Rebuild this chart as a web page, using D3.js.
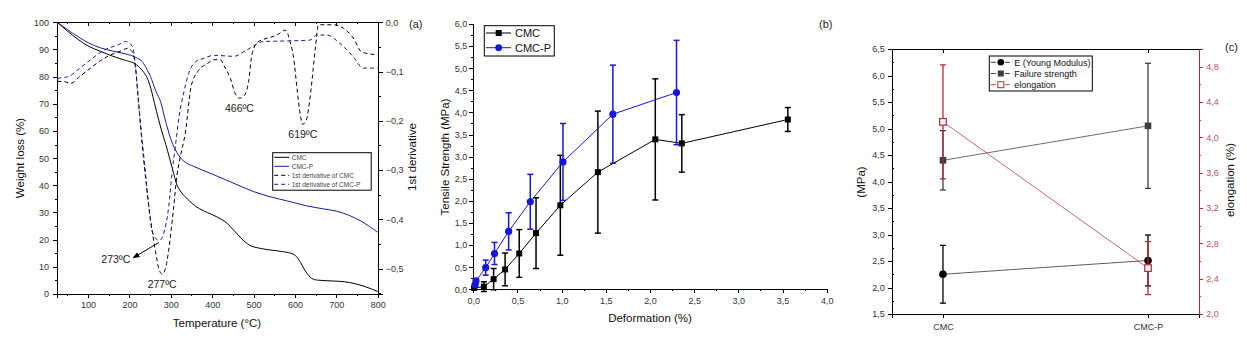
<!DOCTYPE html>
<html>
<head>
<meta charset="utf-8">
<script src="https://cdn.jsdelivr.net/npm/d3@7"></script>
<style>
  body { margin: 0; background: #fff; }
  svg { display: block; font-family: Arial, "Liberation Sans", sans-serif; }
  .axis path, .axis line { stroke: #000; stroke-width: 1; shape-rendering: crispEdges; }
  .axis text { fill: #333; font-size: 9px; }
  .title { fill: #111; font-size: 11.5px; }
</style>
</head>
<body>
<script>
// ---------------------------- DATA ---------------------------- //
// (a) thermogravimetric curves, [temperature, value]
const cmcWeight = [[26,100],[50,96.8],[75,93.8],[100,91.3],[130,89.3],[160,87.5],[190,86.0],[210,85],[225,83.3],[235,81.5],[243,79.5],[252,75.5],[261,70],[270,64.5],[278,60],[288,55],[297,50],[305,45.5],[314,40.5],[325,37.5],[340,35],[363,32],[388,30],[410,28.5],[436,26],[452,23.5],[470,20.5],[490,18],[516,16.8],[540,16.2],[570,15.6],[597,14.6],[610,12.5],[625,8.5],[640,5.8],[655,5.1],[690,4.8],[720,4.5],[745,3.8],[770,2.7],[800,0.9]];
const cmcpWeight = [[26,100],[50,97.3],[75,94.8],[100,92.5],[130,90.6],[160,89.4],[190,88.4],[215,87.1],[231,85.5],[243,82.5],[251,80],[263,75],[277,70],[285,65],[294,60],[305,55],[315,52],[325,49.8],[335,48.5],[355,47],[396,44.4],[444,41.3],[500,37.7],[540,35.8],[580,34.3],[630,32.4],[670,31.3],[700,30.5],[730,29],[760,26.8],[800,22.7]];
const cmcDeriv = [[26,-0.120],[40,-0.120],[58,-0.124],[80,-0.110],[100,-0.097],[130,-0.078],[155,-0.066],[180,-0.058],[195,-0.053],[207,-0.060],[215,-0.093],[222,-0.16],[231,-0.25],[241,-0.33],[251,-0.40],[263,-0.465],[271,-0.50],[279,-0.511],[287,-0.50],[295,-0.462],[307,-0.374],[315,-0.31],[323,-0.273],[335,-0.225],[349,-0.131],[365,-0.100],[390,-0.083],[404,-0.076],[420,-0.076],[428,-0.087],[444,-0.114],[456,-0.145],[466,-0.154],[478,-0.148],[488,-0.120],[496,-0.066],[510,-0.040],[520,-0.036],[556,-0.026],[578,-0.016],[588,-0.039],[597,-0.073],[605,-0.134],[613,-0.188],[619,-0.207],[627,-0.200],[633,-0.175],[641,-0.120],[649,-0.055],[657,-0.005],[693,-0.005],[717,-0.012],[741,-0.032],[761,-0.060],[780,-0.064],[800,-0.066]];
const cmcpDeriv = [[26,-0.114],[40,-0.112],[54,-0.110],[70,-0.100],[100,-0.080],[140,-0.056],[175,-0.045],[191,-0.039],[207,-0.049],[215,-0.093],[221,-0.154],[229,-0.225],[237,-0.29],[245,-0.36],[253,-0.415],[262,-0.437],[272,-0.443],[283,-0.428],[295,-0.374],[303,-0.306],[311,-0.252],[320,-0.191],[331,-0.144],[343,-0.104],[360,-0.080],[380,-0.073],[404,-0.067],[452,-0.069],[484,-0.056],[524,-0.039],[573,-0.038],[637,-0.036],[653,-0.026],[677,-0.026],[709,-0.043],[741,-0.070],[765,-0.093],[800,-0.093]];
const tgaLegend = ["CMC", "CMC-P", "1st derivative of CMC", "1st derivative of CMC-P"];
const peakLabels = [{t: 466, d: -0.154, text: "466ºC"}, {t: 619, d: -0.207, text: "619ºC"}, {t: 279, d: -0.511, text: "277ºC"}];

// (b) tensile curves
const cmcStrain = [0.01,0.12,0.23,0.36,0.52,0.71,0.985,1.41,2.06,2.36,3.56];
const cmcStress = [0.03,0.06,0.23,0.45,0.81,1.27,1.90,2.65,3.39,3.30,3.84];
const cmcStressErr = [0.02,0.11,0.24,0.37,0.54,0.80,1.13,1.38,1.37,0.65,0.27];
const cmcpStrain = [0.02,0.03,0.14,0.24,0.40,0.645,1.015,1.58,2.30];
const cmcpStress = [0.10,0.19,0.49,0.81,1.31,1.98,2.88,3.96,4.45];
const cmcpStressErr = [0.04,0.05,0.17,0.25,0.42,0.62,0.87,1.11,1.18];

// (c) mechanical properties per sample
const samples = ["CMC", "CMC-P"];
const youngModulus = [2.25, 2.51];
const youngErr = [0.545, 0.48];
const failureStrength = [4.40, 5.05];
const failureErr = [0.56, 1.18];
const elongation = [4.175, 2.52];
const elongationErr = [0.645, 0.30];

// ---------------------------- SETUP ---------------------------- //
const width = 1247, height = 339;
const svg = d3.select("body").append("svg").attr("width", width).attr("height", height);
const comma = f => v => d3.format(f)(v).replace(".", ",");
const navy = "#1a1a9a", blue = "#1616d8", red = "#b3283a", grey = "#3d3d3d";

function minorAxis(axisFn, scale, values, size) {
  return axisFn(scale).tickValues(values).tickSize(size).tickFormat("");
}

// ============================ (a) ============================ //
const ax = d3.scaleLinear().domain([25, 800]).range([57, 377.7]);
const ayW = d3.scaleLinear().domain([0, 100]).range([294, 22.3]);
const ayD = d3.scaleLinear().domain([-0.5515, 0]).range([294, 22.3]);
const ga = svg.append("g");

ga.append("g").attr("class", "axis").attr("transform", "translate(0,294)")
  .call(d3.axisBottom(ax).tickValues(d3.range(100, 801, 100)).tickSize(4).tickPadding(4));
ga.append("g").attr("class", "axis").attr("transform", "translate(0,294)")
  .call(minorAxis(d3.axisBottom, ax, d3.range(50, 800, 100), 2));
ga.append("g").attr("class", "axis").attr("transform", "translate(0,22.3)")
  .call(d3.axisBottom(ax).tickValues(d3.range(100, 801, 100)).tickSize(4).tickFormat(""));
ga.append("g").attr("class", "axis").attr("transform", "translate(0,22.3)")
  .call(minorAxis(d3.axisBottom, ax, d3.range(50, 800, 100), 2));
ga.append("g").attr("class", "axis").attr("transform", "translate(57,0)")
  .call(d3.axisLeft(ayW).tickValues(d3.range(0, 101, 10)).tickSize(4).tickPadding(4));
ga.append("g").attr("class", "axis").attr("transform", "translate(57,0)")
  .call(minorAxis(d3.axisLeft, ayW, d3.range(5, 100, 10), 2));
ga.append("g").attr("class", "axis").attr("transform", "translate(377.7,0)")
  .call(d3.axisRight(ayD).tickValues([0, -0.1, -0.2, -0.3, -0.4, -0.5]).tickSize(5).tickPadding(3).tickFormat(comma(".1f")));
ga.append("g").attr("class", "axis").attr("transform", "translate(377.7,0)")
  .call(minorAxis(d3.axisRight, ayD, [-0.05, -0.15, -0.25, -0.35, -0.45, -0.55], 3));

const lineW = d3.line().curve(d3.curveMonotoneX).x(d => ax(d[0])).y(d => ayW(d[1]));
const lineD = d3.line().curve(d3.curveMonotoneX).x(d => ax(d[0])).y(d => ayD(d[1]));
const tgaSeries = [
  {data: cmcWeight, line: lineW, color: "#000", dash: null},
  {data: cmcpWeight, line: lineW, color: navy, dash: null},
  {data: cmcDeriv, line: lineD, color: "#000", dash: "4,3"},
  {data: cmcpDeriv, line: lineD, color: navy, dash: "4,3"}
];
ga.selectAll(".tga").data(tgaSeries).enter().append("path")
  .attr("d", d => d.line(d.data)).attr("fill", "none")
  .attr("stroke", d => d.color).attr("stroke-width", 1)
  .attr("stroke-dasharray", d => d.dash);

// peak annotations
ga.selectAll(".peak").data(peakLabels).enter().append("text")
  .attr("x", d => ax(d.t)).attr("y", d => ayD(d.d) + 14)
  .attr("text-anchor", "middle").attr("font-size", 10.5).attr("fill", "#222")
  .text(d => d.text);

svg.append("defs").append("marker").attr("id", "arrow")
  .attr("viewBox", "0 0 10 10").attr("refX", 9).attr("refY", 5)
  .attr("markerWidth", 7).attr("markerHeight", 7).attr("orient", "auto")
  .append("path").attr("d", "M0,1 L10,5 L0,9 Z").attr("fill", "#000");
ga.append("line")
  .attr("x1", ax(271)).attr("y1", ayD(-0.443) + 2)
  .attr("x2", ax(209)).attr("y2", ayD(-0.478))
  .attr("stroke", "#000").attr("stroke-width", 1).attr("marker-end", "url(#arrow)");
ga.append("text").attr("x", ax(202)).attr("y", ayD(-0.48) + 4)
  .attr("text-anchor", "end").attr("font-size", 10.5).attr("fill", "#222").text("273ºC");

// legend (a)
const lgA = ga.append("g").attr("transform", "translate(272.7,152.7)");
lgA.append("rect").attr("width", 98.5).attr("height", 37.5).attr("fill", "#fff").attr("stroke", "#000");
tgaLegend.forEach((name, i) => {
  const y = 4.6 + i * 9;
  lgA.append("line").attr("x1", 1.5).attr("x2", 16.5).attr("y1", y).attr("y2", y)
    .attr("stroke", tgaSeries[i].color).attr("stroke-dasharray", tgaSeries[i].dash);
  lgA.append("text").attr("x", 19).attr("y", y + 2.4).attr("font-size", 6.5).attr("fill", "#444").text(name);
});

ga.append("text").attr("class", "title").attr("text-anchor", "middle")
  .attr("transform", "translate(24,158) rotate(-90)").text("Weight loss (%)");
ga.append("text").attr("class", "title").attr("text-anchor", "middle")
  .attr("transform", "translate(416,157) rotate(-90)").text("1st derivative");
ga.append("text").attr("class", "title").attr("text-anchor", "middle")
  .attr("x", 217).attr("y", 327).text("Temperature (°C)");
ga.append("text").attr("x", 409).attr("y", 28).attr("font-size", 11).attr("fill", "#222").text("(a)");

// ============================ (b) ============================ //
const bx = d3.scaleLinear().domain([0, 4]).range([473.3, 826.7]);
const by = d3.scaleLinear().domain([0, 6]).range([289.3, 24]);
const gb = svg.append("g");

gb.append("g").attr("class", "axis").attr("transform", "translate(0,289.3)")
  .call(d3.axisBottom(bx).tickValues(d3.range(0, 4.01, 0.5)).tickSize(4).tickPadding(4).tickFormat(comma(".1f")));
gb.append("g").attr("class", "axis").attr("transform", "translate(0,289.3)")
  .call(minorAxis(d3.axisBottom, bx, d3.range(0.25, 4, 0.5), 2));
gb.append("g").attr("class", "axis").attr("transform", "translate(473.3,0)")
  .call(d3.axisLeft(by).tickValues(d3.range(0, 6.01, 0.5)).tickSize(4).tickPadding(2).tickFormat(comma(".1f")));
gb.append("g").attr("class", "axis").attr("transform", "translate(473.3,0)")
  .call(minorAxis(d3.axisLeft, by, d3.range(0.25, 6, 0.5), 2));

const tensile = [
  {name: "CMC", color: "#000", shape: "square",
   values: cmcStrain.map((x, i) => ({x: x, y: cmcStress[i], e: cmcStressErr[i]}))},
  {name: "CMC-P", color: blue, shape: "circle",
   values: cmcpStrain.map((x, i) => ({x: x, y: cmcpStress[i], e: cmcpStressErr[i]}))}
];
const lineB = d3.line().x(d => bx(d.x)).y(d => by(d.y));

tensile.forEach(s => {
  const g = gb.append("g");
  g.append("path").attr("d", lineB(s.values)).attr("fill", "none").attr("stroke", s.color).attr("stroke-width", 1);
  const eb = g.selectAll(".err").data(s.values).enter().append("g");
  eb.append("line").attr("x1", d => bx(d.x)).attr("x2", d => bx(d.x))
    .attr("y1", d => by(d.y - d.e)).attr("y2", d => by(d.y + d.e))
    .attr("stroke", s.color).attr("stroke-width", 1.5);
  [-1, 1].forEach(k => eb.append("line")
    .attr("x1", d => bx(d.x) - 3).attr("x2", d => bx(d.x) + 3)
    .attr("y1", d => by(d.y + k * d.e)).attr("y2", d => by(d.y + k * d.e))
    .attr("stroke", s.color).attr("stroke-width", 1.5));
  if (s.shape === "square") {
    g.selectAll(".pt").data(s.values).enter().append("rect")
      .attr("x", d => bx(d.x) - 3).attr("y", d => by(d.y) - 3)
      .attr("width", 6).attr("height", 6).attr("fill", s.color);
  } else {
    g.selectAll(".pt").data(s.values).enter().append("circle")
      .attr("cx", d => bx(d.x)).attr("cy", d => by(d.y)).attr("r", 3.6).attr("fill", s.color);
  }
});

// legend (b)
const lgB = gb.append("g").attr("transform", "translate(484.3,25.7)");
lgB.append("rect").attr("width", 70).attr("height", 30.3).attr("fill", "#fff").attr("stroke", "#000");
tensile.forEach((s, i) => {
  const y = 7.3 + i * 14.7;
  lgB.append("line").attr("x1", 1.7).attr("x2", 26.7).attr("y1", y).attr("y2", y).attr("stroke", s.color);
  if (s.shape === "square") lgB.append("rect").attr("x", 11.4).attr("y", y - 3).attr("width", 6).attr("height", 6).attr("fill", s.color);
  else lgB.append("circle").attr("cx", 14.4).attr("cy", y).attr("r", 3.4).attr("fill", s.color);
  lgB.append("text").attr("x", 30.7).attr("y", y + 4).attr("font-size", 11).attr("fill", "#111").text(s.name);
});

gb.append("text").attr("class", "title").attr("text-anchor", "middle")
  .attr("transform", "translate(449,157) rotate(-90)").text("Tensile Strength (MPa)");
gb.append("text").attr("class", "title").attr("text-anchor", "middle")
  .attr("x", 650).attr("y", 322).text("Deformation (%)");
gb.append("text").attr("x", 819).attr("y", 28).attr("font-size", 11).attr("fill", "#222").text("(b)");

// ============================ (c) ============================ //
const cx = d3.scaleLinear().domain([0.75, 2.25]).range([891.7, 1199.3]);
const cyL = d3.scaleLinear().domain([1.5, 6.5]).range([314, 49]);
const cyR = d3.scaleLinear().domain([2.0, 5.0]).range([314, 49]);
const gc = svg.append("g");

gc.append("g").attr("class", "axis").attr("transform", "translate(0,314)")
  .call(d3.axisBottom(cx).tickValues([1, 2]).tickSize(4).tickPadding(6).tickFormat(d => samples[d - 1]));
gc.append("g").attr("class", "axis").attr("transform", "translate(0,49)")
  .call(d3.axisBottom(cx).tickValues([1, 2]).tickSize(4).tickFormat(""));
gc.append("g").attr("class", "axis").attr("transform", "translate(891.7,0)")
  .call(d3.axisLeft(cyL).tickValues(d3.range(1.5, 6.51, 0.5)).tickSize(4).tickPadding(3).tickFormat(comma(".1f")));
gc.append("g").attr("class", "axis").attr("transform", "translate(891.7,0)")
  .call(minorAxis(d3.axisRight, cyL, d3.range(1.75, 6.5, 0.5), 2));
const rAxis = gc.append("g").attr("class", "axis").attr("transform", "translate(1199.3,0)")
  .call(d3.axisRight(cyR).tickValues(d3.range(2.0, 4.81, 0.4)).tickSize(4).tickPadding(3).tickFormat(comma(".1f")));
rAxis.selectAll("path, line").style("stroke", red);
rAxis.selectAll("text").style("fill", "#c4505c");
const rMinor = gc.append("g").attr("class", "axis").attr("transform", "translate(1199.3,0)")
  .call(minorAxis(d3.axisRight, cyR, d3.range(2.2, 5.0, 0.4), 2));
rMinor.selectAll("path, line").style("stroke", red);

const props = [
  {name: "E (Young Modulus)", vals: youngModulus, errs: youngErr, y: cyL, color: "#000", line: "#333", shape: "circle", fill: "#000"},
  {name: "Failure strength", vals: failureStrength, errs: failureErr, y: cyL, color: grey, line: "#444", shape: "square", fill: grey},
  {name: "elongation", vals: elongation, errs: elongationErr, y: cyR, color: red, line: "#c0404c", shape: "square", fill: "#fff"}
];

props.forEach(p => {
  const pts = p.vals.map((v, i) => ({x: i + 1, y: v, e: p.errs[i]}));
  const g = gc.append("g");
  g.append("path").attr("d", d3.line().x(d => cx(d.x)).y(d => p.y(d.y))(pts))
    .attr("fill", "none").attr("stroke", p.line).attr("stroke-width", 0.8);
  const eb = g.selectAll(".err").data(pts).enter().append("g");
  eb.append("line").attr("x1", d => cx(d.x)).attr("x2", d => cx(d.x))
    .attr("y1", d => p.y(d.y - d.e)).attr("y2", d => p.y(d.y + d.e))
    .attr("stroke", p.color).attr("stroke-width", 1.3);
  [-1, 1].forEach(k => eb.append("line")
    .attr("x1", d => cx(d.x) - 3).attr("x2", d => cx(d.x) + 3)
    .attr("y1", d => p.y(d.y + k * d.e)).attr("y2", d => p.y(d.y + k * d.e))
    .attr("stroke", p.color).attr("stroke-width", 1.3));
  if (p.shape === "circle") {
    g.selectAll(".pt").data(pts).enter().append("circle")
      .attr("cx", d => cx(d.x)).attr("cy", d => p.y(d.y)).attr("r", 3.8).attr("fill", p.fill);
  } else {
    g.selectAll(".pt").data(pts).enter().append("rect")
      .attr("x", d => cx(d.x) - 3.3).attr("y", d => p.y(d.y) - 3.3)
      .attr("width", 6.6).attr("height", 6.6).attr("fill", p.fill)
      .attr("stroke", p.color).attr("stroke-width", p.fill === "#fff" ? 1.2 : 0);
  }
});

// legend (c)
const lgC = gc.append("g").attr("transform", "translate(989.3,56)");
lgC.append("rect").attr("width", 103).attr("height", 35).attr("fill", "#fff").attr("stroke", "#000");
props.forEach((p, i) => {
  const y = 6.3 + i * 11.2;
  lgC.append("line").attr("x1", 1.5).attr("x2", 22.5).attr("y1", y).attr("y2", y)
    .attr("stroke", p.line).attr("stroke-dasharray", "5,2");
  if (p.shape === "circle") lgC.append("circle").attr("cx", 11.5).attr("cy", y).attr("r", 3.3).attr("fill", p.fill);
  else lgC.append("rect").attr("x", 8.5).attr("y", y - 3).attr("width", 6).attr("height", 6)
    .attr("fill", p.fill).attr("stroke", p.color).attr("stroke-width", p.fill === "#fff" ? 1 : 0);
  lgC.append("text").attr("x", 25).attr("y", y + 3.3).attr("font-size", 9).attr("fill", "#111").text(p.name);
});

gc.append("text").attr("class", "title").attr("text-anchor", "middle")
  .attr("transform", "translate(864.5,182) rotate(-90)").text("(MPa)");
gc.append("text").attr("class", "title").attr("text-anchor", "middle")
  .attr("transform", "translate(1234,180) rotate(-90)").text("elongation (%)");
gc.append("text").attr("x", 1225).attr("y", 51).attr("font-size", 11).attr("fill", "#222").text("(c)");
</script>
</body>
</html>
